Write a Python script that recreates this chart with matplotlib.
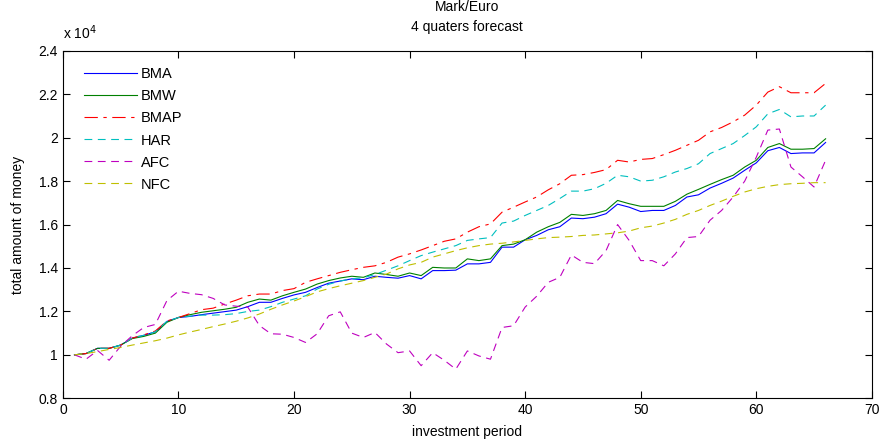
import matplotlib
matplotlib.use('Agg')
import matplotlib.pyplot as plt
from matplotlib.ticker import FuncFormatter

plt.rcParams['font.family'] = ['Liberation Sans', 'DejaVu Sans']

# investment period 1..66, amounts in units of 10^4
period = list(range(1, 67))

bma = [1.000, 1.006, 1.030, 1.030, 1.045, 1.077, 1.090, 1.106, 1.154, 1.172,
       1.177, 1.185, 1.192, 1.199, 1.206, 1.222, 1.242, 1.242, 1.260, 1.276,
       1.288, 1.310, 1.330, 1.340, 1.350, 1.346, 1.362, 1.357, 1.353, 1.365,
       1.350, 1.388, 1.388, 1.390, 1.419, 1.419, 1.426, 1.496, 1.496, 1.530,
       1.550, 1.576, 1.590, 1.630, 1.627, 1.634, 1.650, 1.694, 1.680, 1.660,
       1.665, 1.665, 1.688, 1.727, 1.737, 1.768, 1.790, 1.814, 1.850, 1.884,
       1.940, 1.955, 1.927, 1.930, 1.930, 1.978]

bmw = [1.000, 1.006, 1.030, 1.030, 1.045, 1.075, 1.085, 1.100, 1.150, 1.172,
       1.185, 1.196, 1.203, 1.210, 1.219, 1.242, 1.257, 1.252, 1.272, 1.288,
       1.303, 1.326, 1.342, 1.354, 1.362, 1.357, 1.377, 1.370, 1.362, 1.377,
       1.365, 1.403, 1.400, 1.400, 1.442, 1.434, 1.442, 1.503, 1.510, 1.530,
       1.565, 1.590, 1.610, 1.647, 1.642, 1.650, 1.665, 1.711, 1.696, 1.684,
       1.684, 1.684, 1.707, 1.740, 1.762, 1.785, 1.807, 1.827, 1.865, 1.896,
       1.955, 1.973, 1.947, 1.947, 1.950, 1.995]

bmap = [1.000, 1.006, 1.030, 1.030, 1.045, 1.077, 1.092, 1.110, 1.156, 1.172,
        1.190, 1.208, 1.215, 1.234, 1.252, 1.272, 1.280, 1.280, 1.296, 1.305,
        1.334, 1.350, 1.365, 1.380, 1.392, 1.403, 1.410, 1.426, 1.450, 1.465,
        1.483, 1.503, 1.523, 1.534, 1.565, 1.590, 1.603, 1.657, 1.680, 1.704,
        1.727, 1.760, 1.788, 1.827, 1.830, 1.840, 1.853, 1.896, 1.888, 1.900,
        1.904, 1.922, 1.942, 1.965, 1.988, 2.027, 2.047, 2.073, 2.104, 2.150,
        2.210, 2.235, 2.207, 2.207, 2.207, 2.250]

har = [1.000, 1.006, 1.030, 1.030, 1.045, 1.077, 1.090, 1.106, 1.154, 1.172,
       1.178, 1.183, 1.183, 1.185, 1.190, 1.200, 1.206, 1.222, 1.242, 1.257,
       1.272, 1.303, 1.325, 1.340, 1.350, 1.355, 1.370, 1.390, 1.410, 1.434,
       1.457, 1.473, 1.488, 1.503, 1.527, 1.534, 1.540, 1.607, 1.616, 1.642,
       1.665, 1.688, 1.720, 1.754, 1.754, 1.765, 1.790, 1.827, 1.820, 1.800,
       1.804, 1.820, 1.842, 1.858, 1.880, 1.927, 1.950, 1.973, 2.010, 2.050,
       2.110, 2.130, 2.096, 2.100, 2.100, 2.150]

afc = [1.000, 0.980, 1.020, 0.975, 1.040, 1.088, 1.126, 1.140, 1.250, 1.293,
       1.283, 1.277, 1.260, 1.230, 1.224, 1.220, 1.135, 1.097, 1.095, 1.080,
       1.057, 1.097, 1.180, 1.198, 1.100, 1.080, 1.103, 1.050, 1.010, 1.018,
       0.950, 1.010, 0.975, 0.934, 1.018, 0.995, 0.980, 1.126, 1.134, 1.220,
       1.270, 1.334, 1.357, 1.460, 1.426, 1.420, 1.480, 1.600, 1.527, 1.434,
       1.434, 1.410, 1.465, 1.540, 1.545, 1.620, 1.665, 1.727, 1.800, 1.910,
       2.035, 2.040, 1.865, 1.820, 1.773, 1.896]

nfc = [1.000, 1.006, 1.015, 1.025, 1.034, 1.045, 1.055, 1.065, 1.077, 1.092,
       1.105, 1.117, 1.130, 1.142, 1.155, 1.170, 1.188, 1.210, 1.230, 1.248,
       1.268, 1.290, 1.305, 1.318, 1.330, 1.342, 1.357, 1.372, 1.396, 1.414,
       1.426, 1.450, 1.465, 1.480, 1.493, 1.503, 1.510, 1.514, 1.520, 1.527,
       1.534, 1.540, 1.542, 1.545, 1.550, 1.552, 1.557, 1.562, 1.570, 1.585,
       1.593, 1.607, 1.624, 1.647, 1.665, 1.688, 1.708, 1.730, 1.750, 1.765,
       1.776, 1.784, 1.788, 1.790, 1.793, 1.793]

SCALE = 1e4

fig = plt.figure(figsize=(8.86, 4.46), dpi=100)
ax = fig.add_axes([0.071, 0.107, 0.913, 0.779])

lw = 0.8
ax.plot(period, [v * SCALE for v in bma], color=(0, 0, 1), lw=lw, label='BMA')
ax.plot(period, [v * SCALE for v in bmw], color=(0, 0.5, 0), lw=lw, label='BMW')
ax.plot(period, [v * SCALE for v in bmap], color=(1, 0, 0), lw=lw,
        dashes=[12, 5, 3, 5], label='BMAP')
ax.plot(period, [v * SCALE for v in har], color=(0, 0.75, 0.75), lw=lw,
        dashes=[7, 5], label='HAR')
ax.plot(period, [v * SCALE for v in afc], color=(0.75, 0, 0.75), lw=lw,
        dashes=[7, 5], label='AFC')
ax.plot(period, [v * SCALE for v in nfc], color=(0.75, 0.75, 0), lw=lw,
        dashes=[7, 5], label='NFC')

ax.set_xlim(0, 70)
ax.set_ylim(0.8 * SCALE, 2.4 * SCALE)
ax.set_xticks(range(0, 71, 10))
ax.set_yticks([v * SCALE for v in [0.8, 1.0, 1.2, 1.4, 1.6, 1.8, 2.0, 2.2, 2.4]])
ax.yaxis.set_major_formatter(FuncFormatter(lambda y, pos: '%g' % round(y / SCALE, 1)))
ax.tick_params(direction='in', top=True, right=True, length=5, labelsize=10, width=0.8)
for s in ax.spines.values():
    s.set_linewidth(0.8)

ax.set_xlabel('investment period', fontsize=10, labelpad=6)
ax.set_ylabel('total amount of money', fontsize=10, labelpad=10)
ax.set_title('Mark/Euro\n4 quaters forecast', fontsize=10, linespacing=1.6, pad=14)
ax.text(0.0, 1.025, r'x 10$^4$', transform=ax.transAxes, fontsize=10,
        ha='left', va='bottom')

ax.legend(loc='upper left', frameon=False, fontsize=10.5, handlelength=3.6,
          handletextpad=0.3, labelspacing=0.55, borderaxespad=0.5,
          bbox_to_anchor=(0.01, 0.99))

fig.savefig('out.png', dpi=100)
